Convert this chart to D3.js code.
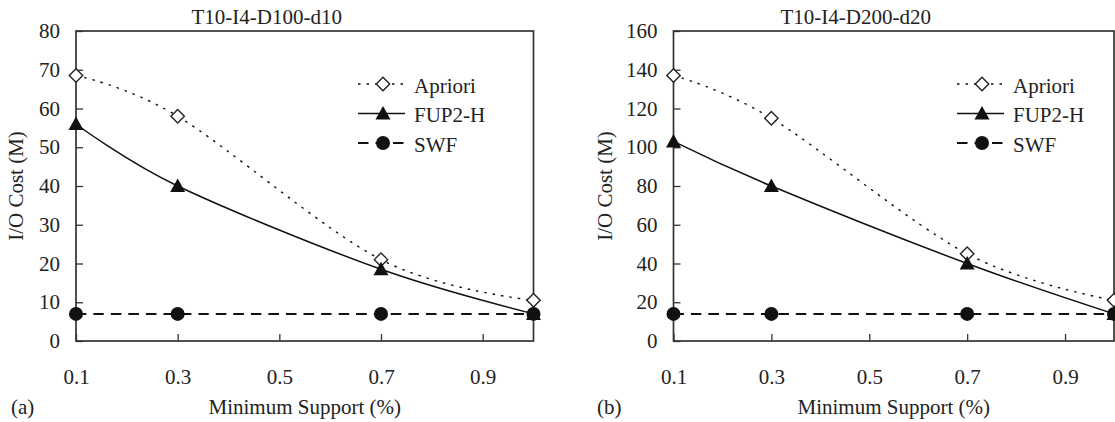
<!DOCTYPE html>
<html>
<head>
<meta charset="UTF-8">
<script src="https://d3js.org/d3.v7.min.js"></script>
<style>
  body { margin: 0; background: #fff; }
  text { font-family: "Liberation Serif", "Times New Roman", serif; fill: #222; }
</style>
</head>
<body>
<div id="chart"></div>
<script>
// minimum support values (%) where each algorithm was measured
var supports = [0.1, 0.3, 0.7, 1.0];
var xTicks = [0.1, 0.3, 0.5, 0.7, 0.9];
var seriesNames = ["Apriori", "FUP2-H", "SWF"];

// (a) T10-I4-D100-d10
var aprioriA = [68.5, 58, 21, 10.5];
var fup2hA = [56, 40, 18.5, 7];
var swfA = [7, 7, 7, 7];
var yTicksA = [0, 10, 20, 30, 40, 50, 60, 70, 80];

// (b) T10-I4-D200-d20
var aprioriB = [137, 115, 45, 21];
var fup2hB = [103, 80, 40, 14];
var swfB = [14, 14, 14, 14];
var yTicksB = [0, 20, 40, 60, 80, 100, 120, 140, 160];

var W = 1115, H = 422, FS = 21;

var svg = d3.select("#chart").append("svg")
  .attr("width", W)
  .attr("height", H);

var styles = [
  { dash: "2.5,6", width: 1.4, marker: "diamond" },
  { dash: null, width: 1.5, marker: "triangle" },
  { dash: "10.5,7", width: 2, marker: "circle" }
];

function drawMarker(g, type, x, y) {
  if (type == "diamond") {
    g.append("path")
      .attr("d", "M" + x + "," + (y - 6.7) + "L" + (x + 6.7) + "," + y + "L" + x + "," + (y + 6.7) + "L" + (x - 6.7) + "," + y + "Z")
      .attr("fill", "#fff").attr("stroke", "#222").attr("stroke-width", 1.4);
  } else if (type == "triangle") {
    g.append("path")
      .attr("d", "M" + x + "," + (y - 7.5) + "L" + (x + 7.5) + "," + (y + 6) + "L" + (x - 7.5) + "," + (y + 6) + "Z")
      .attr("fill", "#111");
  } else {
    g.append("circle").attr("cx", x).attr("cy", y).attr("r", 7).attr("fill", "#111");
  }
}

function panel(opt) {
  var g = svg.append("g");
  var x = d3.scaleLinear().domain([0.1, 1.0]).range([opt.left, opt.right]);
  var y = d3.scaleLinear().domain([0, opt.ymax]).range([opt.bottom, opt.top]);

  // both axes have their ticks pointing into the plot
  var xa = g.append("g")
    .attr("transform", "translate(0," + opt.bottom + ")")
    .call(d3.axisBottom(x).tickValues(xTicks).tickSize(-7).tickPadding(28).tickFormat(d3.format(".1f")));
  var ya = g.append("g")
    .attr("transform", "translate(" + opt.left + ",0)")
    .call(d3.axisLeft(y).tickValues(opt.yTicks).tickSize(-7).tickPadding(16));
  [xa, ya].forEach(function(a) {
    a.select(".domain").remove();
    a.selectAll("line").attr("stroke", "#333").attr("stroke-width", 1.3);
    a.selectAll("text").attr("font-size", FS).attr("font-family", "Liberation Serif").attr("fill", "#222");
  });

  // frame
  g.append("rect")
    .attr("x", opt.left).attr("y", opt.top)
    .attr("width", opt.right - opt.left).attr("height", opt.bottom - opt.top)
    .attr("fill", "none").attr("stroke", "#333").attr("stroke-width", 1.7);

  var line = d3.line()
    .x(function(d, i) { return x(supports[i]); })
    .y(function(d) { return y(d); })
    .curve(d3.curveCardinal.tension(0));

  opt.series.forEach(function(s, k) {
    g.append("path")
      .attr("d", line(s))
      .attr("fill", "none")
      .attr("stroke", "#111")
      .attr("stroke-width", styles[k].width)
      .attr("stroke-dasharray", styles[k].dash);
  });
  [2, 0, 1].forEach(function(k) {
    opt.series[k].forEach(function(v, i) {
      drawMarker(g, styles[k].marker, x(supports[i]), y(v));
    });
  });

  // legend
  seriesNames.forEach(function(name, k) {
    var ly = opt.legendY[k];
    g.append("line")
      .attr("x1", opt.legendX).attr("x2", opt.legendX + 47)
      .attr("y1", ly).attr("y2", ly)
      .attr("stroke", "#111")
      .attr("stroke-width", styles[k].width)
      .attr("stroke-dasharray", styles[k].dash);
    drawMarker(g, styles[k].marker, opt.legendX + 25, ly);
    g.append("text")
      .attr("x", opt.legendX + 56).attr("y", ly + 8.5)
      .attr("font-size", FS)
      .text(name);
  });

  g.append("text")
    .attr("x", (opt.left + opt.right) / 2 - 38).attr("y", 23.5)
    .attr("text-anchor", "middle")
    .attr("font-size", FS)
    .text(opt.title);

  g.append("text")
    .attr("transform", "translate(" + opt.ylabelX + "," + (opt.top + opt.bottom) / 2 + ") rotate(-90)")
    .attr("text-anchor", "middle")
    .attr("dy", "0.35em")
    .attr("font-size", FS)
    .text("I/O Cost (M)");

  g.append("text")
    .attr("x", (opt.left + opt.right) / 2).attr("y", 414)
    .attr("text-anchor", "middle")
    .attr("font-size", FS)
    .text("Minimum Support (%)");

  g.append("text")
    .attr("x", opt.tagX).attr("y", 414)
    .attr("font-size", FS)
    .text(opt.tag);
}

panel({
  left: 76, right: 533.5, top: 31, bottom: 341, ymax: 80, yTicks: yTicksA,
  series: [aprioriA, fup2hA, swfA],
  legendX: 358, legendY: [84, 113.5, 143],
  title: "T10-I4-D100-d10", tag: "(a)", tagX: 11, ylabelX: 16
});
panel({
  left: 673.5, right: 1114, top: 31, bottom: 341, ymax: 160, yTicks: yTicksB,
  series: [aprioriB, fup2hB, swfB],
  legendX: 957, legendY: [84, 113.5, 143],
  title: "T10-I4-D200-d20", tag: "(b)", tagX: 597, ylabelX: 605
});
</script>
</body>
</html>
